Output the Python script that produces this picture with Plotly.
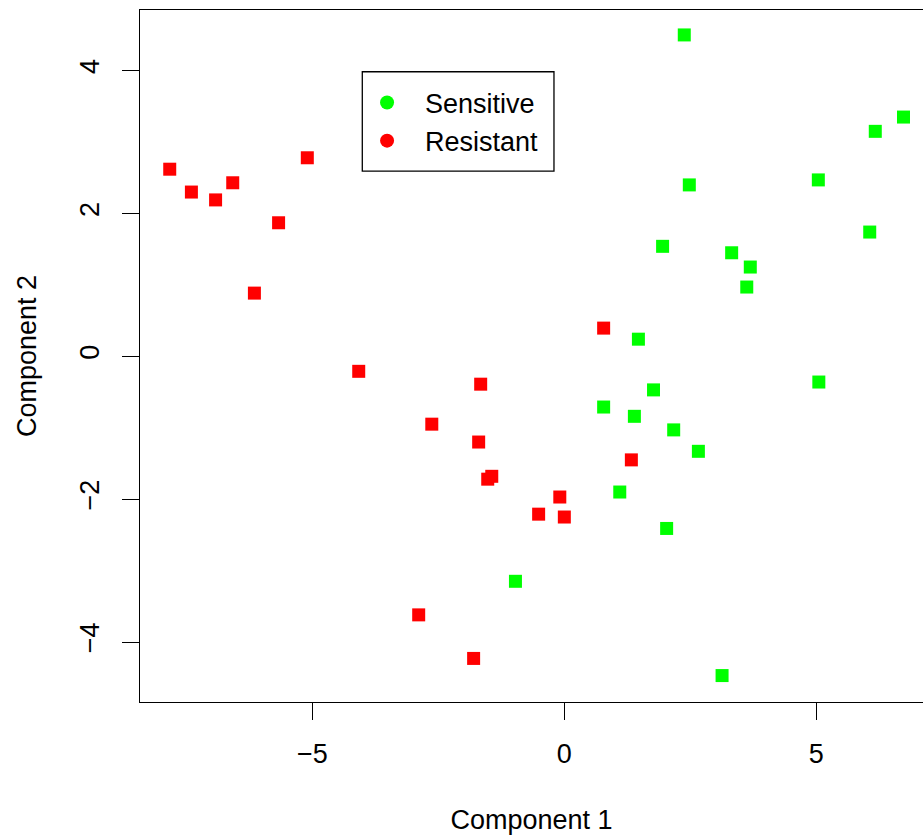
import plotly.graph_objects as go

# Sensitive (green) samples
sens_x = [2.38, 6.73, 6.17, 2.48, 5.04, 6.06, 1.95, 3.32, 3.69, 3.62, 1.47, 5.05,
          1.77, 0.78, 1.39, 2.17, 2.66, 1.10, 2.03, -0.97, 3.13]
sens_y = [4.50, 3.35, 3.15, 2.40, 2.47, 1.74, 1.54, 1.45, 1.25, 0.97, 0.24, -0.36,
          -0.47, -0.71, -0.84, -1.03, -1.33, -1.90, -2.41, -3.15, -4.47]

# Resistant (red) samples
res_x = [-7.83, -7.40, -6.92, -6.58, -5.10, -5.67, -6.15, -4.08, -1.66, -2.63,
         -1.70, -1.44, -1.52, -0.51, -0.09, 0.00, 0.78, 1.33, -2.89, -1.80]
res_y = [2.62, 2.30, 2.19, 2.43, 2.78, 1.87, 0.885, -0.21, -0.39, -0.95,
         -1.20, -1.68, -1.72, -2.21, -1.97, -2.25, 0.395, -1.45, -3.62, -4.23]

x_ticks = [-5, 0, 5]
y_ticks = [-4, -2, 0, 2, 4]

FONT = "Liberation Sans, Arial, Helvetica, sans-serif"
GREEN = "#00FF00"
RED = "#FF0000"

fig = go.Figure()
fig.add_trace(go.Scatter(x=sens_x, y=sens_y, mode="markers", showlegend=False,
                         marker=dict(symbol="square", size=13, color=GREEN, line=dict(width=0))))
fig.add_trace(go.Scatter(x=res_x, y=res_y, mode="markers", showlegend=False,
                         marker=dict(symbol="square", size=13, color=RED, line=dict(width=0))))
# legend entries (circles, as in the original)
fig.add_trace(go.Scatter(x=[None], y=[None], mode="markers", name="Sensitive",
                         marker=dict(symbol="circle", size=14, color=GREEN)))
fig.add_trace(go.Scatter(x=[None], y=[None], mode="markers", name="Resistant",
                         marker=dict(symbol="circle", size=14, color=RED)))

# legend frame
fig.add_shape(type="rect", xref="paper", yref="paper",
              x0=0.2839, x1=0.5287, y0=0.7673, y1=0.9108,
              line=dict(color="black", width=1.3), fillcolor="rgba(0,0,0,0)", layer="above")

fig.update_layout(
    width=923, height=839,
    margin=dict(l=140, r=0, t=10, b=137),
    paper_bgcolor="white", plot_bgcolor="white",
    font=dict(family=FONT, size=27, color="black"),
    legend=dict(x=0.267, y=0.901, xanchor="left", yanchor="top",
                borderwidth=0, bgcolor="rgba(0,0,0,0)", itemwidth=66,
                font=dict(size=27), itemsizing="trace", tracegroupgap=0),
    xaxis=dict(range=[-8.42, 7.117], tickvals=x_ticks, ticks="outside", ticklen=17,
               tickwidth=1.3, tickcolor="black", showline=True, linecolor="black",
               linewidth=1.3, mirror=True, showgrid=False, zeroline=False,
               tickfont=dict(size=27), ticklabelstandoff=10,
               title=dict(text="Component 1", font=dict(size=27), standoff=42)),
    yaxis=dict(range=[-4.840, 4.849], tickvals=y_ticks, ticks="outside", ticklen=17,
               tickwidth=1.3, tickcolor="black", showline=True, linecolor="black",
               linewidth=1.3, mirror=False, showgrid=False, zeroline=False,
               tickangle=-90, tickfont=dict(size=27), ticklabelstandoff=12,
               title=dict(text="Component 2", font=dict(size=27), standoff=30)),
)

fig.write_html("out.html")
